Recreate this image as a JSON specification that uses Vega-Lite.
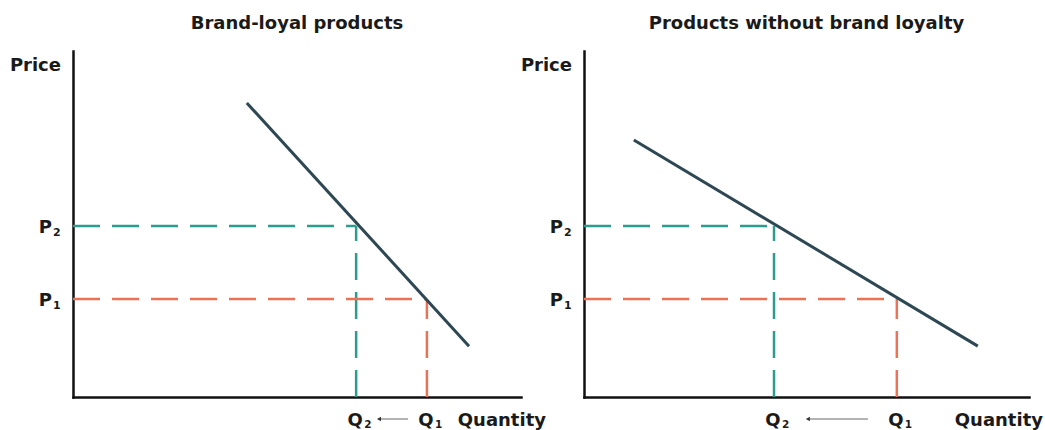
{
  "$schema": "https://vega.github.io/schema/vega-lite/v6.json",
  "padding": {"left": 9, "top": 15, "right": 0, "bottom": 0},
  "autosize": {"type": "pad"},
  "bounds": "flush",
  "spacing": 63,
  "background": "white",
  "config": {
    "view": {"stroke": null},
    "font": "DejaVu Sans",
    "axis": {"domainColor": "#111111", "domainWidth": 2.5, "domainCap": "square", "labels": false, "ticks": false, "grid": false, "minExtent": 0, "maxExtent": 0, "zindex": 1},
    "title": {"fontSize": 18, "font": "DejaVu Sans", "fontWeight": "bold", "color": "#1a1a1a", "offset": 18, "anchor": "middle"}
  },
  "datasets": {
    "demand": [
      {"panel": "L", "q": 38.8, "p": 85.0},
      {"panel": "L", "q": 88.4, "p": 14.7},
      {"panel": "R", "q": 11.2, "p": 74.3},
      {"panel": "R", "q": 88.5, "p": 14.7}
    ],
    "guides": [
      {"panel": "L", "level": "2", "q": 63.2, "p": 49.4},
      {"panel": "L", "level": "1", "q": 79.0, "p": 28.3},
      {"panel": "R", "level": "2", "q": 42.7, "p": 49.4},
      {"panel": "R", "level": "1", "q": 70.3, "p": 28.3}
    ],
    "segments": [
      {"panel": "L", "level": "2", "qa": 0, "pa": 49.4, "qb": 63.2, "pb": 49.4},
      {"panel": "L", "level": "2", "qa": 63.2, "pa": 0, "qb": 63.2, "pb": 49.4},
      {"panel": "L", "level": "1", "qa": 0, "pa": 28.3, "qb": 79.0, "pb": 28.3},
      {"panel": "L", "level": "1", "qa": 79.0, "pa": 0, "qb": 79.0, "pb": 28.3},
      {"panel": "R", "level": "2", "qa": 0, "pa": 49.4, "qb": 42.7, "pb": 49.4},
      {"panel": "R", "level": "2", "qa": 42.7, "pa": 0, "qb": 42.7, "pb": 49.4},
      {"panel": "R", "level": "1", "qa": 0, "pa": 28.3, "qb": 70.3, "pb": 28.3},
      {"panel": "R", "level": "1", "qa": 70.3, "pa": 0, "qb": 70.3, "pb": 28.3}
    ],
    "arrows": [
      {"panel": "L", "from": 74.8, "to": 68.3},
      {"panel": "R", "from": 63.8, "to": 50.3}
    ]
  },
  "hconcat": [
    {
      "width": 448,
      "height": 346,
      "title": {"text": "Brand-loyal products"},
      "layer": [
        {
          "data": {"name": "segments"},
          "transform": [{"filter": "datum.panel == 'L'"}],
          "mark": {"type": "rule", "strokeDash": [27, 12], "strokeWidth": 2.5},
          "encoding": {
            "x": {"field": "qa", "type": "quantitative", "scale": {"domain": [0, 100], "nice": false, "zero": false}, "axis": {"title": null}},
            "x2": {"field": "qb"},
            "y": {"field": "pa", "type": "quantitative", "scale": {"domain": [0, 100], "nice": false, "zero": false}, "axis": {"title": null}},
            "y2": {"field": "pb"},
            "color": {"field": "level", "type": "nominal", "scale": {"domain": ["2", "1"], "range": ["#2a9d8f", "#ea7257"]}, "legend": null}
          }
        },
        {
          "data": {"name": "demand"},
          "transform": [{"filter": "datum.panel == 'L'"}],
          "mark": {"type": "line", "color": "#2d4753", "strokeWidth": 3},
          "encoding": {
            "x": {"field": "q", "type": "quantitative", "scale": {"domain": [0, 100], "nice": false, "zero": false}, "axis": {"title": null}},
            "y": {"field": "p", "type": "quantitative", "scale": {"domain": [0, 100], "nice": false, "zero": false}, "axis": {"title": null}}
          }
        },
        {
          "data": {"name": "guides"},
          "transform": [{"filter": "datum.panel == 'L'"}],
          "mark": {"type": "text", "align": "right", "baseline": "alphabetic", "dx": -21, "dy": 6.5, "fontSize": 18, "fontWeight": "bold", "color": "#1a1a1a"},
          "encoding": {
            "x": {"datum": 0, "type": "quantitative", "scale": {"domain": [0, 100], "nice": false, "zero": false}, "axis": {"title": null}},
            "y": {"field": "p", "type": "quantitative", "scale": {"domain": [0, 100], "nice": false, "zero": false}, "axis": {"title": null}},
            "text": {"value": "P"}
          }
        },
        {
          "data": {"name": "guides"},
          "transform": [{"filter": "datum.panel == 'L'"}],
          "mark": {"type": "text", "align": "left", "baseline": "alphabetic", "dx": -20, "dy": 10, "fontSize": 11, "fontWeight": "bold", "color": "#1a1a1a"},
          "encoding": {
            "x": {"datum": 0, "type": "quantitative", "scale": {"domain": [0, 100], "nice": false, "zero": false}, "axis": {"title": null}},
            "y": {"field": "p", "type": "quantitative", "scale": {"domain": [0, 100], "nice": false, "zero": false}, "axis": {"title": null}},
            "text": {"field": "level"}
          }
        },
        {
          "data": {"name": "guides"},
          "transform": [{"filter": "datum.panel == 'L'"}],
          "mark": {"type": "text", "align": "center", "baseline": "alphabetic", "dx": -1, "dy": 29, "fontSize": 18, "fontWeight": "bold", "color": "#1a1a1a"},
          "encoding": {
            "x": {"field": "q", "type": "quantitative", "scale": {"domain": [0, 100], "nice": false, "zero": false}, "axis": {"title": null}},
            "y": {"datum": 0, "type": "quantitative", "scale": {"domain": [0, 100], "nice": false, "zero": false}, "axis": {"title": null}},
            "text": {"value": "Q"}
          }
        },
        {
          "data": {"name": "guides"},
          "transform": [{"filter": "datum.panel == 'L'"}],
          "mark": {"type": "text", "align": "left", "baseline": "alphabetic", "dx": 8, "dy": 30.5, "fontSize": 10.5, "fontWeight": "bold", "color": "#1a1a1a"},
          "encoding": {
            "x": {"field": "q", "type": "quantitative", "scale": {"domain": [0, 100], "nice": false, "zero": false}, "axis": {"title": null}},
            "y": {"datum": 0, "type": "quantitative", "scale": {"domain": [0, 100], "nice": false, "zero": false}, "axis": {"title": null}},
            "text": {"field": "level"}
          }
        },
        {
          "data": {"name": "arrows"},
          "transform": [{"filter": "datum.panel == 'L'"}],
          "mark": {"type": "rule", "color": "#666666", "strokeWidth": 1, "yOffset": 22},
          "encoding": {
            "x": {"field": "from", "type": "quantitative", "scale": {"domain": [0, 100], "nice": false, "zero": false}, "axis": {"title": null}},
            "x2": {"field": "to"},
            "y": {"datum": 0, "type": "quantitative", "scale": {"domain": [0, 100], "nice": false, "zero": false}, "axis": {"title": null}}
          }
        },
        {
          "data": {"name": "arrows"},
          "transform": [{"filter": "datum.panel == 'L'"}],
          "mark": {"type": "point", "shape": "triangle-left", "filled": true, "size": 22, "color": "#333333", "opacity": 1, "yOffset": 22},
          "encoding": {
            "x": {"field": "to", "type": "quantitative", "scale": {"domain": [0, 100], "nice": false, "zero": false}, "axis": {"title": null}},
            "y": {"datum": 0, "type": "quantitative", "scale": {"domain": [0, 100], "nice": false, "zero": false}, "axis": {"title": null}}
          }
        },
        {
          "data": {"values": [{"label": "Price"}]},
          "mark": {"type": "text", "align": "right", "baseline": "alphabetic", "dx": -12, "dy": 20, "fontSize": 18, "fontWeight": "bold", "color": "#1a1a1a"},
          "encoding": {
            "x": {"datum": 0, "type": "quantitative", "scale": {"domain": [0, 100], "nice": false, "zero": false}, "axis": {"title": null}},
            "y": {"datum": 100, "type": "quantitative", "scale": {"domain": [0, 100], "nice": false, "zero": false}, "axis": {"title": null}},
            "text": {"field": "label"}
          }
        },
        {
          "data": {"values": [{"label": "Quantity"}]},
          "mark": {"type": "text", "align": "right", "baseline": "alphabetic", "dx": 25, "dy": 29, "fontSize": 18, "fontWeight": "bold", "color": "#1a1a1a"},
          "encoding": {
            "x": {"datum": 100, "type": "quantitative", "scale": {"domain": [0, 100], "nice": false, "zero": false}, "axis": {"title": null}},
            "y": {"datum": 0, "type": "quantitative", "scale": {"domain": [0, 100], "nice": false, "zero": false}, "axis": {"title": null}},
            "text": {"field": "label"}
          }
        }
      ]
    },
    {
      "width": 445,
      "height": 346,
      "title": {"text": "Products without brand loyalty"},
      "layer": [
        {
          "data": {"name": "segments"},
          "transform": [{"filter": "datum.panel == 'R'"}],
          "mark": {"type": "rule", "strokeDash": [27, 12], "strokeWidth": 2.5},
          "encoding": {
            "x": {"field": "qa", "type": "quantitative", "scale": {"domain": [0, 100], "nice": false, "zero": false}, "axis": {"title": null}},
            "x2": {"field": "qb"},
            "y": {"field": "pa", "type": "quantitative", "scale": {"domain": [0, 100], "nice": false, "zero": false}, "axis": {"title": null}},
            "y2": {"field": "pb"},
            "color": {"field": "level", "type": "nominal", "scale": {"domain": ["2", "1"], "range": ["#2a9d8f", "#ea7257"]}, "legend": null}
          }
        },
        {
          "data": {"name": "demand"},
          "transform": [{"filter": "datum.panel == 'R'"}],
          "mark": {"type": "line", "color": "#2d4753", "strokeWidth": 3},
          "encoding": {
            "x": {"field": "q", "type": "quantitative", "scale": {"domain": [0, 100], "nice": false, "zero": false}, "axis": {"title": null}},
            "y": {"field": "p", "type": "quantitative", "scale": {"domain": [0, 100], "nice": false, "zero": false}, "axis": {"title": null}}
          }
        },
        {
          "data": {"name": "guides"},
          "transform": [{"filter": "datum.panel == 'R'"}],
          "mark": {"type": "text", "align": "right", "baseline": "alphabetic", "dx": -21, "dy": 6.5, "fontSize": 18, "fontWeight": "bold", "color": "#1a1a1a"},
          "encoding": {
            "x": {"datum": 0, "type": "quantitative", "scale": {"domain": [0, 100], "nice": false, "zero": false}, "axis": {"title": null}},
            "y": {"field": "p", "type": "quantitative", "scale": {"domain": [0, 100], "nice": false, "zero": false}, "axis": {"title": null}},
            "text": {"value": "P"}
          }
        },
        {
          "data": {"name": "guides"},
          "transform": [{"filter": "datum.panel == 'R'"}],
          "mark": {"type": "text", "align": "left", "baseline": "alphabetic", "dx": -20, "dy": 10, "fontSize": 11, "fontWeight": "bold", "color": "#1a1a1a"},
          "encoding": {
            "x": {"datum": 0, "type": "quantitative", "scale": {"domain": [0, 100], "nice": false, "zero": false}, "axis": {"title": null}},
            "y": {"field": "p", "type": "quantitative", "scale": {"domain": [0, 100], "nice": false, "zero": false}, "axis": {"title": null}},
            "text": {"field": "level"}
          }
        },
        {
          "data": {"name": "guides"},
          "transform": [{"filter": "datum.panel == 'R'"}],
          "mark": {"type": "text", "align": "center", "baseline": "alphabetic", "dx": -1, "dy": 29, "fontSize": 18, "fontWeight": "bold", "color": "#1a1a1a"},
          "encoding": {
            "x": {"field": "q", "type": "quantitative", "scale": {"domain": [0, 100], "nice": false, "zero": false}, "axis": {"title": null}},
            "y": {"datum": 0, "type": "quantitative", "scale": {"domain": [0, 100], "nice": false, "zero": false}, "axis": {"title": null}},
            "text": {"value": "Q"}
          }
        },
        {
          "data": {"name": "guides"},
          "transform": [{"filter": "datum.panel == 'R'"}],
          "mark": {"type": "text", "align": "left", "baseline": "alphabetic", "dx": 8, "dy": 30.5, "fontSize": 10.5, "fontWeight": "bold", "color": "#1a1a1a"},
          "encoding": {
            "x": {"field": "q", "type": "quantitative", "scale": {"domain": [0, 100], "nice": false, "zero": false}, "axis": {"title": null}},
            "y": {"datum": 0, "type": "quantitative", "scale": {"domain": [0, 100], "nice": false, "zero": false}, "axis": {"title": null}},
            "text": {"field": "level"}
          }
        },
        {
          "data": {"name": "arrows"},
          "transform": [{"filter": "datum.panel == 'R'"}],
          "mark": {"type": "rule", "color": "#666666", "strokeWidth": 1, "yOffset": 22},
          "encoding": {
            "x": {"field": "from", "type": "quantitative", "scale": {"domain": [0, 100], "nice": false, "zero": false}, "axis": {"title": null}},
            "x2": {"field": "to"},
            "y": {"datum": 0, "type": "quantitative", "scale": {"domain": [0, 100], "nice": false, "zero": false}, "axis": {"title": null}}
          }
        },
        {
          "data": {"name": "arrows"},
          "transform": [{"filter": "datum.panel == 'R'"}],
          "mark": {"type": "point", "shape": "triangle-left", "filled": true, "size": 22, "color": "#333333", "opacity": 1, "yOffset": 22},
          "encoding": {
            "x": {"field": "to", "type": "quantitative", "scale": {"domain": [0, 100], "nice": false, "zero": false}, "axis": {"title": null}},
            "y": {"datum": 0, "type": "quantitative", "scale": {"domain": [0, 100], "nice": false, "zero": false}, "axis": {"title": null}}
          }
        },
        {
          "data": {"values": [{"label": "Price"}]},
          "mark": {"type": "text", "align": "right", "baseline": "alphabetic", "dx": -12, "dy": 20, "fontSize": 18, "fontWeight": "bold", "color": "#1a1a1a"},
          "encoding": {
            "x": {"datum": 0, "type": "quantitative", "scale": {"domain": [0, 100], "nice": false, "zero": false}, "axis": {"title": null}},
            "y": {"datum": 100, "type": "quantitative", "scale": {"domain": [0, 100], "nice": false, "zero": false}, "axis": {"title": null}},
            "text": {"field": "label"}
          }
        },
        {
          "data": {"values": [{"label": "Quantity"}]},
          "mark": {"type": "text", "align": "right", "baseline": "alphabetic", "dx": 14, "dy": 29, "fontSize": 18, "fontWeight": "bold", "color": "#1a1a1a"},
          "encoding": {
            "x": {"datum": 100, "type": "quantitative", "scale": {"domain": [0, 100], "nice": false, "zero": false}, "axis": {"title": null}},
            "y": {"datum": 0, "type": "quantitative", "scale": {"domain": [0, 100], "nice": false, "zero": false}, "axis": {"title": null}},
            "text": {"field": "label"}
          }
        }
      ]
    }
  ]
}
